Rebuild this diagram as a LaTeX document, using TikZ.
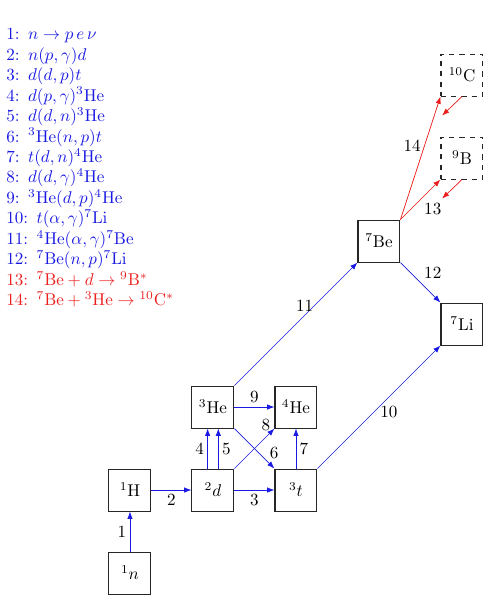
\documentclass[tikz,border=0pt]{standalone}
\usepackage{amsmath,amssymb}
\usetikzlibrary{positioning,arrows.meta,calc}
\definecolor{rxBlue}{RGB}{25,25,225}
\definecolor{rxRed}{RGB}{235,30,30}

\begin{document}
\begin{tikzpicture}[
  x=1.71cm, y=1.71cm,
  nuc/.style={draw=black!85, semithick, minimum size=0.865cm, inner sep=1pt},
  tent/.style={nuc, dashed},
  arr/.style={-{Latex[length=1.5mm, width=1.1mm]}, draw=rxBlue},
  rarr/.style={arr, draw=rxRed, fill=rxRed},
  lbl/.style={inner sep=2pt},
]
\useasboundingbox (-1.566,-0.349) rectangle (4.470,6.904);
% legend of reactions
\node[anchor=north west, align=left, text=rxBlue, inner sep=0pt] (legend) at (-1.494,6.567)
  {1:\enskip$n\rightarrow p\,e\,\nu$\\
   2:\enskip$n(p,\gamma)d$\\
   3:\enskip$d(d,p)t$\\
   4:\enskip$d(p,\gamma)^3\mathrm{He}$\\
   5:\enskip$d(d,n)^3\mathrm{He}$\\
   6:\enskip$^3\mathrm{He}(n,p)t$\\
   7:\enskip$t(d,n)^4\mathrm{He}$\\
   8:\enskip$d(d,\gamma)^4\mathrm{He}$\\
   9:\enskip$^3\mathrm{He}(d,p)^4\mathrm{He}$\\
   10:\enskip$t(\alpha,\gamma)^7\mathrm{Li}$\\
   11:\enskip$^4\mathrm{He}(\alpha,\gamma)^7\mathrm{Be}$\\
   12:\enskip$^7\mathrm{Be}(n,p)^7\mathrm{Li}$\\
   \textcolor{rxRed}{13:\enskip$^7\mathrm{Be}+d\rightarrow{}^9\mathrm{B}^*$}\\
   \textcolor{rxRed}{14:\enskip$^7\mathrm{Be}+{}^3\mathrm{He}\rightarrow{}^{10}\mathrm{C}^*$}};
% nuclides
\node[nuc] (n1) at (0,0) {$^1n$};
\node[nuc] (H1) at (0,1) {$^1$H};
\node[nuc] (d2) at (1,1) {$^2d$};
\node[nuc] (t3) at (2,1) {$^3t$};
\node[nuc] (He3) at (1,2) {$^3$He};
\node[nuc] (He4) at (2,2) {$^4$He};
\node[nuc] (Be7) at (3,4) {$^7$Be};
\node[nuc] (Li7) at (4,3) {$^7$Li};
\node[tent] (B9) at (4,5) {$^9$B};
\node[tent] (C10) at (4,6) {$^{10}$C};
% reactions
\draw[arr] (n1) -- node[lbl, left] {1} (H1);
\draw[arr] (H1) -- node[lbl, below] {2} (d2);
\draw[arr] (d2) -- node[lbl, below] {3} (t3);
\draw[arr] ([xshift=-0.11cm]d2.north) -- node[lbl, left] {4} ([xshift=-0.11cm]He3.south);
\draw[arr] ([xshift=0.11cm]d2.north) -- node[lbl, right] {5} ([xshift=0.11cm]He3.south);
\draw[arr] (He3.south east) -- node[lbl, pos=0.62, right=4pt] {6} (t3.north west);
\draw[arr] (t3) -- node[lbl, right] {7} (He4);
\draw[arr] (d2.north east) -- node[lbl, pos=0.85, above, xshift=-1.5pt] {8} (He4.south west);
\draw[arr] (He3) -- node[lbl, above] {9} (He4);
\draw[arr] (t3.north east) -- node[lbl, pos=0.58, below=3pt] {10} (Li7.south west);
\draw[arr] (He3.north east) -- node[lbl, pos=0.57, above] {11} (Be7.south west);
\draw[arr] (Be7.south east) -- node[lbl, pos=0.5, above right] {12} (Li7.north west);
% tentative channels
\coordinate (B9x) at ($(B9.south)+(-0.24,-0.23)$);
\coordinate (C10x) at ($(C10.south)+(-0.24,-0.23)$);
\draw[rarr] (Be7.north east) -- node[lbl, pos=0.5, below right] {13} (B9.south west);
\draw[rarr] (Be7.north east) -- node[lbl, pos=0.6, left] {14} (C10.south west);
\draw[rarr] (B9.south) -- (B9x);
\draw[rarr] (C10.south) -- (C10x);
\end{tikzpicture}
\end{document}
